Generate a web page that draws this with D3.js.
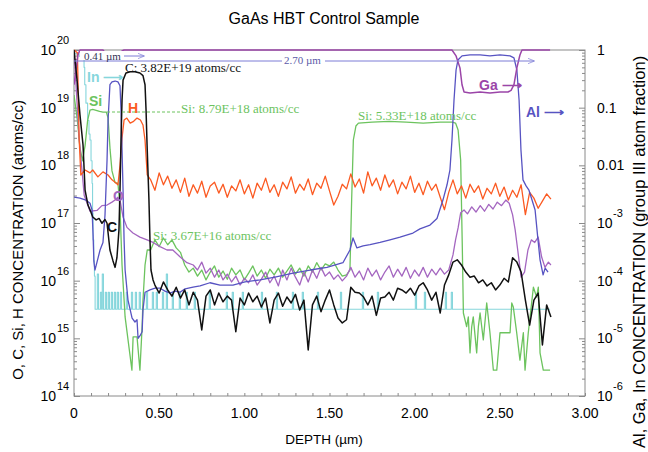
<!DOCTYPE html>
<html>
<head>
<meta charset="utf-8">
<script src="https://cdn.jsdelivr.net/npm/d3@7/dist/d3.min.js"></script>
<style>
  body { margin: 0; background: #fff; }
  svg { display: block; }
  text { font-family: "Liberation Sans", Arial, sans-serif; }
  .serif { font-family: "Liberation Serif", "Times New Roman", serif; }
</style>
</head>
<body>
<script>
// depth in um, concentration in atoms/cc (left axis) or group III fraction (right axis)
var hData = [[0,1e20],[0.02,9e19],[0.03,3e18],[0.04,6.8e17],[0.065,8.3e17],[0.094,7.4e17],[0.11,8.3e17],[0.14,6.3e17],[0.17,7.7e17],[0.2,6.8e17],[0.223,5.6e17],[0.241,5.1e17],[0.258,4.6e17],[0.27,1e18],[0.282,3e18],[0.294,6.1e18],[0.31,6.6e18],[0.33,5.4e18],[0.35,5.8e18],[0.37,6.6e18],[0.39,6.1e18],[0.405,5e18],[0.417,2.75e18],[0.43,6.8e17],[0.45,5.6e17],
  [0.475,3.7e17],[0.5,7.4e17],[0.525,4.6e17],[0.55,6.5e17],[0.575,4e17],[0.6,5.6e17],[0.625,3.4e17],[0.65,6e17],[0.675,2.9e17],[0.7,4.6e17],[0.725,3.3e17],[0.75,5.3e17],[0.775,2.8e17],[0.8,4.4e17],[0.825,5.1e17],[0.85,3.3e17],[0.875,4.7e17],[0.9,2.8e17],[0.925,4.4e17],[0.95,3.6e17],[0.975,5.6e17],[1,3.2e17],[1.025,4.6e17],[1.05,2.7e17],[1.075,4.9e17],[1.1,3.7e17],[1.125,6e17],[1.15,3.4e17],[1.175,4.6e17],[1.2,2.9e17],[1.225,5.1e17],[1.25,3.9e17],[1.275,6.3e17],[1.3,3.3e17],[1.325,4.7e17],[1.35,3.7e17],[1.375,5.8e17],[1.4,3.1e17],[1.425,4.9e17],[1.45,4e17],[1.475,6.5e17],[1.5,3.6e17],[1.525,2.05e17],[1.55,2.9e17],[1.575,4.7e17],[1.6,3.9e17],[1.625,7.1e17],[1.65,4.2e17],[1.675,5.8e17],[1.7,3.3e17],[1.725,7.7e17],[1.75,4.4e17],[1.775,6e17],[1.8,3.7e17],[1.825,6.8e17],[1.85,4.2e17],[1.875,5.6e17],[1.9,3.2e17],[1.925,5.1e17],[1.95,3.9e17],[1.975,6.5e17],[2,3.4e17],[2.025,4.9e17],[2.05,3.1e17],[2.075,5.3e17],[2.1,3.7e17],[2.125,4.7e17],[2.15,2.8e17],[2.175,1.7e17],[2.2,3.4e17],[2.225,5.6e17],[2.25,3.2e17],[2.275,4.4e17],[2.3,2.7e17],[2.325,4.7e17],[2.35,3.4e17],[2.375,4.4e17],[2.4,2.6e17],[2.425,4e17],[2.45,3.2e17],[2.475,4.9e17],[2.5,2.9e17],[2.525,4.2e17],[2.55,2.5e17],[2.575,3.7e17],[2.6,2.8e17],[2.625,4.6e17],[2.65,1.4e17],[2.675,3.4e17],[2.7,2.7e17],[2.725,1.8e17],[2.75,2.4e17],[2.775,3.2e17],[2.8,2.6e17]];

var cData = [[0,1e20],[0.018,3e19],[0.035,7.5e18],[0.053,2.25e18],[0.065,3.7e17],[0.082,2.05e17],[0.094,1.7e17],[0.11,1.27e17],[0.13,1.13e17],[0.147,1.2e17],[0.164,9.9e16],[0.182,1.15e17],[0.194,9.9e16],[0.211,3.4e16],[0.229,2.2e16],[0.241,1.7e16],[0.252,2.5e16],[0.264,7.6e16],[0.27,3.7e17],[0.276,2.75e18],[0.282,1.36e19],[0.288,3e19],[0.305,4e19],[0.33,4.2e19],[0.358,4.2e19],[0.387,4e19],[0.405,3.6e19],[0.417,2.5e19],[0.423,9.1e18],[0.429,2.25e18],[0.44,2.5e17],[0.446,5.1e16],[0.452,1.53e16],[0.464,1.03e16],
  [0.475,8.4e15],[0.5,6.1e15],[0.525,9.5e15],[0.55,6.9e15],[0.575,5.4e15],[0.6,7.7e15],[0.625,5e15],[0.65,6.9e15],[0.675,3.8e15],[0.7,6.3e15],[0.725,4.6e15],[0.75,1.4e15],[0.775,5.4e15],[0.8,6.9e15],[0.825,3.8e15],[0.85,6.1e15],[0.875,4.3e15],[0.9,5.4e15],[0.925,4.6e15],[0.95,1.3e15],[0.975,5e15],[1,3.8e15],[1.025,6.1e15],[1.05,4.3e15],[1.075,5.4e15],[1.1,3.5e15],[1.125,5e15],[1.15,1.85e15],[1.175,4.6e15],[1.2,6.1e15],[1.225,3.6e15],[1.25,5.2e15],[1.275,4.1e15],[1.3,5.8e15],[1.325,3.1e15],[1.35,4.6e15],[1.375,6.3e14],[1.4,3.8e15],[1.425,5.4e15],[1.45,2.9e15],[1.475,4.6e15],[1.5,6.9e15],[1.525,3.8e15],[1.55,2.25e15],[1.575,1.85e15],[1.6,2.1e15],[1.625,7.7e15],[1.65,6.3e15],[1.675,6.1e15],[1.7,5.2e15],[1.725,3.8e15],[1.75,5.4e15],[1.775,2.5e15],[1.8,5e15],[1.825,5.2e15],[1.85,6.3e15],[1.875,4.6e15],[1.9,7.4e15],[1.925,6.9e15],[1.95,6.1e15],[1.975,7.4e15],[2,5.6e15],[2.025,8.1e15],[2.05,9.2e15],[2.075,6.9e15],[2.1,4.6e15],[2.125,6.3e15],[2.15,2.75e15],[2.175,8.4e15],[2.2,1.26e16],[2.225,2.1e16],[2.25,2.3e16],[2.275,1.87e16],[2.3,1.41e16],[2.325,1.15e16],[2.35,1.2e16],[2.375,9.2e15],[2.4,1.03e16],[2.425,8.1e15],[2.45,9.2e15],[2.475,6.9e15],[2.5,8.4e15],[2.525,1.1e16],[2.55,9.5e15],[2.575,2.5e16],[2.6,2.1e16],[2.625,1.41e16],[2.65,4.6e15],[2.675,1.7e15],[2.7,4.6e15],[2.725,6.1e15],[2.75,7.7e14],[2.775,3.8e15],[2.8,2.35e15]];

var siData = [[0,1.66e19],[0.02,6e18],[0.035,2e18],[0.05,1.2e18],[0.065,2.2e18],[0.08,6e18],[0.094,9.1e18],[0.11,9.3e18],[0.13,9e18],[0.15,8.6e18],[0.17,8.4e18],[0.19,8.4e18],[0.2,6.6e18],[0.212,1.85e18],[0.223,8e17],[0.241,5e17],[0.258,4.9e17],[0.27,1.9e17],[0.282,1.87e16],[0.3,2.35e15],[0.34,2.8e14],[0.347,1.06e15],[0.37,1.06e15],[0.387,2.8e14],[0.4,1.6e15],[0.405,4.6e15],[0.417,1.87e16],[0.43,3.4e16],[0.45,3.4e16],
  [0.475,5.1e16],[0.5,3.9e16],[0.525,5.5e16],[0.55,4.2e16],[0.575,5.1e16],[0.6,3.7e16],[0.625,3.1e16],[0.65,1.87e16],[0.675,1.41e16],[0.7,1.65e16],[0.725,1.2e16],[0.75,1.53e16],[0.775,1.03e16],[0.8,1.41e16],[0.825,1.8e16],[0.85,1.15e16],[0.875,1.47e16],[0.9,1.06e16],[0.925,1.65e16],[0.95,1.26e16],[0.975,1.53e16],[1,1.03e16],[1.025,1.35e16],[1.05,1.8e16],[1.075,1.2e16],[1.1,1.53e16],[1.125,1.1e16],[1.15,1.58e16],[1.175,1.26e16],[1.2,1.65e16],[1.225,1.15e16],[1.25,1.47e16],[1.275,1.87e16],[1.3,1.3e16],[1.325,1.65e16],[1.35,1.2e16],[1.375,1.8e16],[1.4,1.41e16],[1.425,2.05e16],[1.45,1.53e16],[1.475,1.95e16],[1.5,1.8e16],[1.525,2.1e16],[1.55,1.53e16],[1.575,1.2e16],[1.6,1.26e16],[1.62,1.53e16],[1.63,2.5e17],[1.64,2.75e18],[1.655,4.8e18],[1.67,5.4e18],[1.75,5.6e18],[1.85,5.8e18],[1.95,5.6e18],[2.05,5.4e18],[2.15,5.6e18],[2.22,5.6e18],[2.24,5.4e18],[2.255,4.1e18],[2.27,1.24e18],[2.28,3.4e16],
  [2.286,2.75e15],[2.305,1.6e15],[2.315,2.35e15],[2.325,5.6e14],[2.335,1.6e15],[2.344,2.35e15],[2.364,5.6e14],[2.374,1.6e15],[2.384,2.75e15],[2.403,9.4e14],[2.423,4.1e15],[2.442,1.25e15],[2.462,2.8e14],[2.482,2.8e14],[2.501,1.25e15],[2.56,1.25e15],[2.57,4.1e15],[2.579,3.5e15],[2.599,1.25e15],[2.618,4.2e14],[2.638,1.25e15],[2.648,2.8e14],[2.667,1.25e15],[2.697,7.7e15],[2.716,5.2e15],[2.726,7.7e15],[2.736,5.6e14],[2.755,2.8e14],[2.795,2.8e14]];

var oData = [[0,1e20],[0.03,3e18],[0.06,3e17],[0.094,1.6e17],[0.135,1.65e17],[0.164,2e17],[0.194,2.05e17],[0.223,2.3e17],[0.241,2.5e17],[0.258,2.8e17],[0.27,2.5e17],[0.288,1.27e17],[0.311,8.4e16],[0.346,6.7e16],[0.387,5.7e16],[0.429,5.1e16],[0.464,4.6e16],[0.505,3.9e16],[0.546,3.4e16],[0.58,3.4e16],[0.622,2.6e16],[0.663,2.05e16],[0.7,1.87e16],
  [0.725,1.53e16],[0.75,2.1e16],[0.775,1.35e16],[0.8,1.65e16],[0.825,1.15e16],[0.85,1.53e16],[0.875,1.03e16],[0.9,1.3e16],[0.925,9.5e15],[0.95,1.2e16],[0.975,8.4e15],[1,1.1e16],[1.025,9.2e15],[1.05,1.26e16],[1.075,8.4e15],[1.1,1.06e16],[1.125,1.41e16],[1.15,9.2e15],[1.175,1.2e16],[1.2,8.1e15],[1.225,1.53e16],[1.25,1.03e16],[1.275,1.65e16],[1.3,1.15e16],[1.325,8.4e15],[1.35,1.41e16],[1.375,9.5e15],[1.4,1.53e16],[1.425,1.1e16],[1.45,1.7e16],[1.475,1.2e16],[1.5,1.41e16],[1.525,1.06e16],[1.55,1.26e16],[1.575,9.9e15],[1.6,1.2e16],[1.625,1.7e16],[1.65,1.15e16],[1.675,1.47e16],[1.7,1.03e16],[1.725,1.65e16],[1.75,1.2e16],[1.775,1.53e16],[1.8,1.03e16],[1.825,1.41e16],[1.85,1.8e16],[1.875,1.15e16],[1.9,1.58e16],[1.925,1.2e16],[1.95,1.7e16],[1.975,1.1e16],[2,1.53e16],[2.025,1.2e16],[2.05,1.7e16],[2.075,1.15e16],[2.1,1.58e16],[2.125,1.26e16],[2.15,1.65e16],[2.175,1.3e16],[2.2,1.53e16],[2.225,2.8e16],[2.24,5.1e16],[2.255,8.2e16],[2.27,1.5e17],[2.29,1.68e17],[2.31,1.44e17],[2.335,1.9e17],[2.36,1.55e17],[2.385,2e17],[2.41,1.6e17],[2.435,2.1e17],[2.46,1.75e17],[2.485,2.3e17],[2.51,2e17],[2.535,2.5e17],[2.555,2.2e17],[2.575,1.38e17],[2.59,7.6e16],[2.605,3.4e16],[2.625,1.15e16],[2.645,1.41e16],[2.665,3.4e16],[2.685,5.1e16],[2.705,4.6e16],[2.725,5.7e16],[2.745,2.6e16],[2.765,1.7e16],[2.785,2.1e16],[2.8,1.87e16]];

var alData = [[0,2.8e-3],[0.035,2.7e-3],[0.07,2.5e-3],[0.094,2.2e-3],[0.106,1.68e-3],[0.112,6.2e-4],[0.117,2.1e-4],[0.123,1.53e-4],[0.135,2.1e-4],[0.153,3.4e-4],[0.17,4.6e-4],[0.182,1.38e-3],[0.194,1.24e-2],[0.2,6.1e-2],[0.211,0.25],[0.223,0.28],[0.241,0.29],[0.258,0.28],[0.27,0.24],[0.276,0.091],[0.282,0.0185],[0.288,3.7e-3],[0.294,5.1e-4],[0.3,1.53e-4],[0.317,4.6e-5],[0.341,2.25e-5],[0.358,1.92e-5],[0.37,2.1e-5],[0.376,1e-5],[0.387,1.1e-5],[0.4,1.3e-5],[0.405,3.1e-5],[0.417,6.3e-5],[0.446,6.9e-5],[0.476,7.4e-5],[0.505,7.4e-5],[0.534,6.6e-5],[0.564,6.1e-5],[0.593,6.6e-5],[0.622,6.3e-5],[0.652,7.2e-5],[0.699,7.7e-5],[0.74,8.1e-5],[0.798,9.2e-5],[0.857,8.4e-5],[0.933,8.4e-5],[1.004,9.5e-5],[1.092,1.03e-4],[1.18,1.15e-4],[1.286,1.35e-4],[1.386,1.53e-4],[1.485,1.7e-4],[1.579,2.05e-4],[1.62,3.4e-4],[1.638,5.5e-4],[1.661,3.7e-4],[1.697,4e-4],[1.738,4.2e-4],[1.797,4.6e-4],[1.855,5.1e-4],[1.914,5.7e-4],[1.99,6.7e-4],[2.031,7.9e-4],[2.09,9.2e-4],[2.131,1.2e-3],[2.166,2.5e-3],[2.19,4.6e-3],[2.207,8.3e-3],[2.219,2.75e-2],[2.231,0.136],[2.243,0.45],[2.254,0.67],[2.278,0.79],[2.325,0.82],[2.384,0.82],[2.442,0.79],[2.501,0.82],[2.56,0.79],[2.583,0.73],[2.6,0.45],[2.613,0.136],[2.624,0.0185],[2.636,5.6e-3],[2.654,4.4e-3],[2.671,3.7e-3],[2.689,2.5e-3],[2.707,1.68e-3],[2.724,5.1e-4],[2.736,2.3e-4],[2.754,1.26e-4],[2.766,1.65e-4],[2.783,1.41e-4]];

var gaData = [[0,0.25],[0.012,0.45],[0.023,0.82],[0.035,1],[0.17,1],[0.188,0.85],[0.211,0.79],[0.241,0.76],[0.264,0.79],[0.282,0.96],[0.294,1],[2.219,1],[2.243,0.79],[2.266,0.49],[2.278,0.25],[2.29,0.187],[2.325,0.18],[2.384,0.187],[2.442,0.18],[2.501,0.187],[2.548,0.187],[2.566,0.2],[2.583,0.25],[2.6,0.49],[2.618,0.82],[2.63,1],[2.795,1]];

// In is drawn as steps: each point holds until the next one
var inData = [[0,0.85],[0.03,0.78],[0.05,0.7],[0.059,0.5],[0.063,0.25],[0.07,0.12],[0.08,0.06],[0.088,0.035],[0.094,0.0275],[0.1,0.012],[0.106,4.9e-3],[0.109,1.5e-3],[0.112,5.1e-4],[0.116,2.2e-4],[0.12,1.2e-4],[0.124,3.2e-5],
  [0.137,1.3e-4],[0.144,3.2e-5],[0.155,6.3e-5],[0.162,3.2e-5],[0.166,1.3e-4],[0.173,3.2e-5],[0.184,6.3e-5],[0.191,3.2e-5],[0.201,6.3e-5],[0.208,3.2e-5],[0.219,6.3e-5],[0.226,3.2e-5],[0.237,6.3e-5],[0.244,3.2e-5],[0.254,6.3e-5],[0.261,3.2e-5],[0.272,6.3e-5],[0.279,3.2e-5],[0.307,6.3e-5],[0.314,3.2e-5],[0.337,6.3e-5],[0.344,3.2e-5],[0.36,6.3e-5],[0.367,3.2e-5],[0.383,6.3e-5],[0.39,3.2e-5],[0.425,6.3e-5],[0.432,3.2e-5],[0.46,6.3e-5],[0.467,3.2e-5],[0.483,6.3e-5],[0.49,3.2e-5],[0.519,6.3e-5],[0.526,3.2e-5],[0.542,1.3e-4],[0.549,3.2e-5],[0.577,6.3e-5],[0.584,3.2e-5],[0.618,6.3e-5],[0.625,3.2e-5],[0.659,6.3e-5],[0.666,3.2e-5],[0.706,6.3e-5],[0.713,3.2e-5],[0.794,6.3e-5],[0.801,3.2e-5],[0.894,6.3e-5],[0.901,3.2e-5],[0.929,6.3e-5],[0.936,3.2e-5],[0.988,6.3e-5],[0.995,3.2e-5],[1.1,6.3e-5],[1.107,3.2e-5],[1.188,6.3e-5],[1.195,3.2e-5],[1.282,6.3e-5],[1.289,3.2e-5],[1.34,6.3e-5],[1.347,3.2e-5],[1.429,6.3e-5],[1.436,3.2e-5],[1.564,6.3e-5],[1.571,3.2e-5],[1.693,6.3e-5],[1.7,3.2e-5],[1.781,6.3e-5],[1.788,3.2e-5],[2.004,6.3e-5],[2.011,3.2e-5],[2.057,6.3e-5],[2.064,3.2e-5],[2.18,6.3e-5],[2.187,3.2e-5],[2.215,6.3e-5],[2.222,3.2e-5],[2.795,3.2e-5]];

var leftTicks = [1e14, 1e15, 1e16, 1e17, 1e18, 1e19, 1e20];
var leftSup = ["14", "15", "16", "17", "18", "19", "20"];
var rightTicks = [1e-6, 1e-5, 1e-4, 1e-3, 0.01, 0.1, 1];
var rightBase = ["10", "10", "10", "10", "0.01", "0.1", "1"];
var rightSup = ["-6", "-5", "-4", "-3", "", "", ""];
var xTicks = [0, 0.5, 1, 1.5, 2, 2.5, 3];
var xTickLabels = ["0", "0.50", "1.00", "1.50", "2.00", "2.50", "3.00"];

var width = 648, height = 452;
var pL = 74, pR = 585, pT = 50, pB = 396;

var svg = d3.select("body").append("svg")
    .attr("width", width)
    .attr("height", height);

var x = d3.scaleLinear().domain([0, 3]).range([pL, pR]);
var yL = d3.scaleLog().domain([1e14, 1e20]).range([pB, pT]);
var yR = d3.scaleLog().domain([1e-6, 1]).range([pB, pT]);

svg.append("text")
    .attr("x", 324).attr("y", 24)
    .attr("text-anchor", "middle")
    .style("font-size", "16px")
    .text("GaAs HBT Control Sample");

// minor ticks for log axes
function minors(lo, hi) {
  var out = [];
  for (var e = lo; e < hi; e++)
    for (var m = 2; m < 10; m++) out.push(m * Math.pow(10, e));
  return out;
}

var tickColor = "#8a8a8a";

function styleAxis(g) {
  g.select(".domain").remove();
  g.selectAll("line").attr("stroke", tickColor);
}

svg.append("g").attr("transform", "translate(" + pL + ",0)")
    .call(d3.axisLeft(yL).tickValues(leftTicks).tickSize(-6).tickFormat(""))
    .call(styleAxis);
svg.append("g").attr("transform", "translate(" + pL + ",0)")
    .call(d3.axisLeft(yL).tickValues(minors(14, 20)).tickSize(-3).tickFormat(""))
    .call(styleAxis);
svg.append("g").attr("transform", "translate(" + pR + ",0)")
    .call(d3.axisRight(yR).tickValues(rightTicks).tickSize(-6).tickFormat(""))
    .call(styleAxis);
svg.append("g").attr("transform", "translate(" + pR + ",0)")
    .call(d3.axisRight(yR).tickValues(minors(-6, 0)).tickSize(-3).tickFormat(""))
    .call(styleAxis);
svg.append("g").attr("transform", "translate(0," + pB + ")")
    .call(d3.axisBottom(x).ticks(30).tickSize(-3).tickFormat(""))
    .call(styleAxis);

svg.append("rect")
    .attr("x", pL).attr("y", pT)
    .attr("width", pR - pL).attr("height", pB - pT)
    .attr("fill", "none").attr("stroke", tickColor);

// tick labels
svg.append("g").selectAll("text").data(leftTicks).enter().append("text")
    .attr("x", 56).attr("y", function(d) { return yL(d) + 5; })
    .attr("text-anchor", "end")
    .style("font-size", "14px")
    .text("10");
svg.append("g").selectAll("text").data(leftTicks).enter().append("text")
    .attr("x", 57).attr("y", function(d) { return yL(d) - 6; })
    .style("font-size", "11px")
    .text(function(d, i) { return leftSup[i]; });

svg.append("g").selectAll("text").data(rightTicks).enter().append("text")
    .attr("x", 597).attr("y", function(d) { return yR(d) + 5; })
    .style("font-size", "14px")
    .text(function(d, i) { return rightBase[i]; });
svg.append("g").selectAll("text").data(rightTicks).enter().append("text")
    .attr("x", 613).attr("y", function(d) { return yR(d) - 6; })
    .style("font-size", "11px")
    .text(function(d, i) { return rightSup[i]; });

svg.append("g").selectAll("text").data(xTicks).enter().append("text")
    .attr("x", function(d) { return x(d); })
    .attr("y", 418)
    .attr("text-anchor", "middle")
    .style("font-size", "14px")
    .text(function(d, i) { return xTickLabels[i]; });

svg.append("text")
    .attr("x", 324).attr("y", 444)
    .attr("text-anchor", "middle")
    .style("font-size", "13.5px")
    .text("DEPTH (\u00b5m)");

svg.append("text")
    .attr("transform", "translate(23,240) rotate(-90)")
    .attr("text-anchor", "middle")
    .style("font-size", "15px")
    .text("O, C, Si, H CONCENTRATION (atoms/cc)");

svg.append("text")
    .attr("transform", "translate(645,448) rotate(-90)")
    .style("font-size", "16.5px")
    .text("Al, Ga, In CONCENTRATION (group III atom fraction)");

// profiles
svg.append("clipPath").attr("id", "plot")
  .append("rect").attr("x", pL).attr("y", pT - 1)
    .attr("width", pR - pL).attr("height", pB - pT + 1);

var plot = svg.append("g").attr("clip-path", "url(#plot)");

var lineL = d3.line().x(function(d) { return x(d[0]); }).y(function(d) { return yL(d[1]); });
var lineR = d3.line().x(function(d) { return x(d[0]); }).y(function(d) { return yR(d[1]); });
var stepR = d3.line().curve(d3.curveStepAfter)
    .x(function(d) { return x(d[0]); }).y(function(d) { return yR(d[1]); });

var series = [
  {data: inData, line: stepR, color: "#86d6dc", w: 1.1},
  {data: siData, line: lineL, color: "#6cc35e", w: 1.3},
  {data: oData, line: lineL, color: "#a466c0", w: 1.3},
  {data: hData, line: lineL, color: "#fb5a22", w: 1.3},
  {data: alData, line: lineR, color: "#5753c2", w: 1.3},
  {data: gaData, line: lineR, color: "#9b45a8", w: 1.5},
  {data: cData, line: lineL, color: "#111111", w: 1.5}
];

plot.selectAll("path").data(series).enter().append("path")
    .attr("d", function(s) { return s.line(s.data); })
    .attr("fill", "none")
    .attr("stroke", function(s) { return s.color; })
    .attr("stroke-width", function(s) { return s.w; })
    .attr("stroke-linejoin", "round");

// annotations
var defs = svg.append("defs");
defs.append("marker").attr("id", "arr")
    .attr("viewBox", "0 0 10 10").attr("refX", 9).attr("refY", 5)
    .attr("markerWidth", 7).attr("markerHeight", 7).attr("orient", "auto")
  .append("path").attr("d", "M0,1 L10,5 L0,9").attr("fill", "none").attr("stroke", "#7d7dd6");

svg.append("line").attr("x1", x(0)).attr("x2", 282).attr("y1", 61).attr("y2", 61)
    .attr("stroke", "#7d7dd6");
svg.append("line").attr("x1", 325).attr("x2", x(2.70)).attr("y1", 61).attr("y2", 61)
    .attr("stroke", "#7d7dd6").attr("marker-end", "url(#arr)");
svg.append("text").attr("class", "serif").attr("x", 284).attr("y", 64)
    .style("font-size", "11px").attr("fill", "#5a5aa8").text("2.70 \u00b5m");

svg.append("rect").attr("x", 80).attr("y", 51).attr("width", 64).attr("height", 9).attr("fill", "#fff");
svg.append("text").attr("class", "serif").attr("x", 84).attr("y", 60)
    .style("font-size", "11px").attr("fill", "#333355").text("0.41 \u00b5m");
svg.append("line").attr("x1", 124).attr("x2", x(0.41)).attr("y1", 56).attr("y2", 56)
    .attr("stroke", "#7d7dd6").attr("marker-end", "url(#arr)");

svg.append("text").attr("class", "serif").attr("x", 125).attr("y", 72)
    .style("font-size", "13px").attr("fill", "#111").text("C: 3.82E+19 atoms/cc");

svg.append("line").attr("x1", 107).attr("x2", 180).attr("y1", 112).attr("y2", 112)
    .attr("stroke", "#6cc35e").attr("stroke-dasharray", "3,2");
svg.append("text").attr("class", "serif").attr("x", 181).attr("y", 113)
    .style("font-size", "13px").attr("fill", "#6cc35e").text("Si: 8.79E+18 atoms/cc");
svg.append("text").attr("class", "serif").attr("x", 358).attr("y", 120)
    .style("font-size", "13px").attr("fill", "#6cc35e").text("Si: 5.33E+18 atoms/cc");
svg.append("text").attr("class", "serif").attr("x", 153).attr("y", 240)
    .style("font-size", "13px").attr("fill", "#6cc35e").text("Si: 3.67E+16 atoms/cc");

var labels = [
  {t: "In \u27f6", x: 87, y: 82, c: "#86d6dc"},
  {t: "Si", x: 89, y: 106, c: "#6cc35e"},
  {t: "H", x: 128, y: 113, c: "#fb5a22"},
  {t: "O", x: 113, y: 201, c: "#a466c0"},
  {t: "C", x: 107, y: 232, c: "#111"},
  {t: "Ga \u27f6", x: 479, y: 90, c: "#9b45a8"},
  {t: "Al \u27f6", x: 526, y: 117, c: "#5753c2"}
];
svg.append("g").selectAll("text").data(labels).enter().append("text")
    .attr("x", function(d) { return d.x; })
    .attr("y", function(d) { return d.y; })
    .attr("fill", function(d) { return d.c; })
    .style("font-size", "14px")
    .style("font-weight", "bold")
    .text(function(d) { return d.t; });
</script>
</body>
</html>
